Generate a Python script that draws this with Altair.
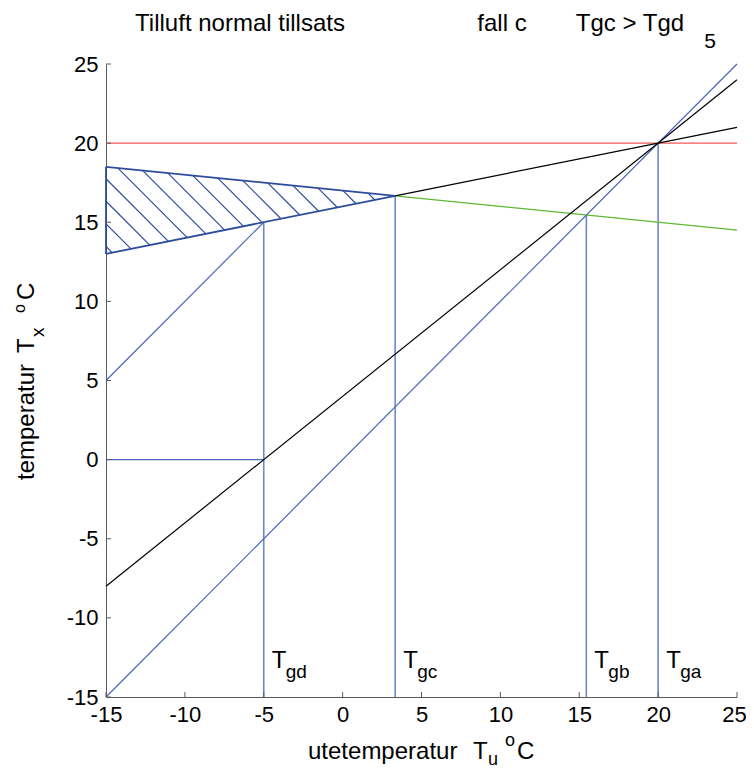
import altair as alt
import pandas as pd

# ---------------- data ----------------
x_ticks = [-15, -10, -5, 0, 5, 10, 15, 20, 25]
y_ticks = [-15, -10, -5, 0, 5, 10, 15, 20, 25]

# characteristic outdoor temperatures
tg_names = ["gd", "gc", "gb", "ga"]
tg_x = [-5.0, 3.33, 15.45, 20.0]
tg_top = [15.0, 16.67, 15.45, 20.0]

# straight lines (start/end points)
red_x, red_y = [-15, 25], [20, 20]
black_steep_x, black_steep_y = [-15, 25], [-8, 24]
black_flat_x, black_flat_y = [3.33, 25], [16.67, 21]
green_x, green_y = [3.33, 25], [16.67, 14.5]
blue_diag_x, blue_diag_y = [-15, 25], [-15, 25]
blue_short_x, blue_short_y = [-15, -5], [5, 15]
blue_zero_x, blue_zero_y = [-15, -5], [0, 0]

# hatched region boundary
region_top_x, region_top_y = [-15, 3.33], [18.5, 16.67]
region_bot_x, region_bot_y = [-15, 3.33], [13, 16.67]
region_left_x, region_left_y = [-15, -15], [13, 18.5]

# hatch lines: value at x=-15 of each line of slope -1
hatch_b = [13.47, 14.9, 16.33, 17.75, 19.18, 20.6, 22.03, 23.46, 24.88,
           26.31, 27.74, 29.17, 30.6, 32.02, 33.45]

# ---------------- build segment table ----------------
rows = []


def seg(xs, ys, color, w):
    rows.append(dict(x=xs[0], y=ys[0], x2=xs[1], y2=ys[1], c=color, w=w))


C_BLUE = "#4a67c0"
C_VERT = "#6f87c9"
C_HATCH = "#2d4c9c"

for tx, tt in zip(tg_x, tg_top):
    seg([tx, tx], [-15, tt], C_VERT, 1.6)
seg(red_x, red_y, "#f05a5a", 1.4)
seg(green_x, green_y, "#5cb832", 1.2)
seg(blue_diag_x, blue_diag_y, C_BLUE, 1.2)
seg(blue_short_x, blue_short_y, C_BLUE, 1.2)
seg(blue_zero_x, blue_zero_y, C_BLUE, 1.2)
seg(black_steep_x, black_steep_y, "#000000", 1.2)
seg(black_flat_x, black_flat_y, "#000000", 1.2)
for b in hatch_b:
    c = b - 15
    if b <= region_top_y[0]:
        sx, sy = -15, b
    else:
        sx = (c - 17) / 0.9
        sy = -sx + c
    ex = (c - 16) / 1.2
    ey = -ex + c
    seg([sx, ex], [sy, ey], C_HATCH, 1.2)
seg(region_top_x, region_top_y, C_HATCH, 1.8)
seg(region_bot_x, region_bot_y, C_HATCH, 1.8)
seg(region_left_x, region_left_y, C_HATCH, 1.8)

segs = pd.DataFrame(rows)

W, H = 631, 633
FONT = "Liberation Sans"
xs = alt.Scale(domain=[-15, 25], nice=False, zero=False)
ys = alt.Scale(domain=[-15, 25], nice=False, zero=False)

x_axis = alt.Axis(values=x_ticks, tickSize=0, grid=False, domainColor="#5a5a5a",
                  labelFontSize=22, labelFont=FONT, labelColor="black",
                  labelPadding=7, title=None, labelFlush=False,
                  labelOffset={"condition": {"test": "datum.value == 25", "value": -3},
                               "value": 0},
                  labelExpr="'' + datum.value")
y_axis = alt.Axis(values=y_ticks, tickSize=0, grid=False, domainColor="#5a5a5a",
                  labelFontSize=22, labelFont=FONT, labelColor="black",
                  labelPadding=8, title=None, labelFlush=False,
                  labelExpr="'' + datum.value")

lines = alt.Chart(segs).mark_rule().encode(
    x=alt.X("x:Q", scale=xs, axis=x_axis),
    y=alt.Y("y:Q", scale=ys, axis=y_axis),
    x2="x2:Q",
    y2="y2:Q",
    color=alt.Color("c:N", scale=None),
    strokeWidth=alt.StrokeWidth("w:Q", scale=None),
)

# inward ticks
xt = alt.Chart(pd.DataFrame({"t": x_ticks})).mark_rule(color="#5a5a5a").encode(
    x=alt.X("t:Q", scale=xs), y=alt.value(H), y2=alt.value(H - 5))
yt = alt.Chart(pd.DataFrame({"t": y_ticks})).mark_rule(color="#5a5a5a").encode(
    y=alt.Y("t:Q", scale=ys), x=alt.value(0), x2=alt.value(5))

# T_g labels
lab = pd.DataFrame({"x": tg_x, "sub": tg_names, "y": [-13.17] * 4})
lab_T = alt.Chart(lab).mark_text(text="T", font=FONT, fontSize=24, align="left",
                                 baseline="alphabetic", dx=8, color="black").encode(
    x=alt.X("x:Q", scale=xs), y=alt.Y("y:Q", scale=ys))
lab_sub = alt.Chart(lab).mark_text(font=FONT, fontSize=19, align="left",
                                   baseline="alphabetic", dx=22, dy=10, color="black").encode(
    x=alt.X("x:Q", scale=xs), y=alt.Y("y:Q", scale=ys), text="sub:N")


def txt(s, px, py, size=24, angle=0, align="left", baseline="alphabetic"):
    kw = dict(text=s, font=FONT, fontSize=size, align=align, baseline=baseline, color="black")
    if angle:
        kw["angle"] = angle
    return alt.Chart(pd.DataFrame({"a": [0]})).mark_text(**kw).encode(
        x=alt.value(px - 106), y=alt.value(py - 64))


annots = [
    txt("Tilluft normal tillsats", 240, 31, align="center"),
    txt("fall c", 502, 31, align="center"),
    txt("Tgc > Tgd", 630, 31, align="center"),
    txt("5", 710, 48, size=21, align="center"),
    # x title
    txt("utetemperatur", 308, 759),
    txt("T", 473, 759),
    txt("u", 488, 765, size=18),
    txt("o", 505, 746, size=18),
    txt("C", 517, 759),
    # y title (rotated)
    txt("temperatur", 34, 480, angle=270),
    txt("T", 34, 353, angle=270),
    txt("x", 44, 337, size=19, angle=270),
    txt("o", 25, 313, size=16, angle=270),
    txt("C", 34, 300, angle=270),
]

chart = alt.layer(lines, xt, yt, lab_T, lab_sub, *annots).properties(
    width=W, height=H,
    autosize=alt.AutoSizeParams(type="none"),
    padding={"left": 98, "top": 56, "right": 9, "bottom": 72},
).configure_view(stroke=None)

chart.save("out.html", embed_options={"renderer": "svg", "actions": False})
